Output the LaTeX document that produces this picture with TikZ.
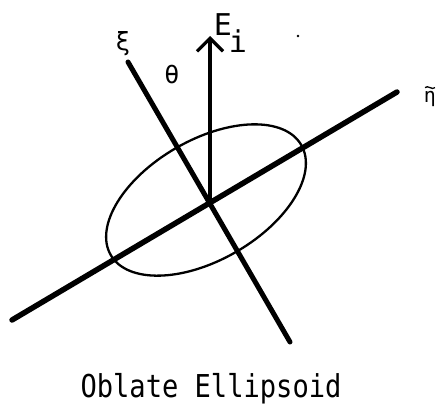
\documentclass[tikz,border=0pt]{standalone}
\usepackage{fontspec}
\setmonofont{DejaVu Sans Mono}
\usetikzlibrary{arrows.meta}
\begin{document}
\begin{tikzpicture}[x=1pt,y=-1pt,
  axisline/.style={line width=5.5pt, line cap=round},
  lbl/.style={font=\ttfamily\fontsize{30}{30}\selectfont, inner sep=0pt},
  greek/.style={font=\ttfamily\fontsize{25}{25}\selectfont, inner sep=0pt},
  captxt/.style={font=\ttfamily\fontsize{31.5}{31.5}\selectfont, inner sep=0pt, anchor=base},
  ]
\useasboundingbox (0,0) rectangle (441,407);
\coordinate (O) at (210,200);
\coordinate (C) at (206,200);
\coordinate (Etip) at (210,36);
\coordinate (etaA) at (12,320);
\coordinate (etaB) at (397,92);
\coordinate (xiA) at (128,62);
\coordinate (xiB) at (290,342);
\draw[line width=2.3pt, rotate around={30:(C)}] (C) ellipse [x radius=110, y radius=60];
\draw[axisline] (etaA) -- (etaB);
\draw[axisline, line width=5pt] (xiA) -- (xiB);
\draw[line width=3.2pt, -{Straight Barb[length=13pt,width=26pt]}] (O) -- (Etip);
\node[lbl, anchor=base] (E) at (223,35) {E};
\node[lbl, anchor=base] (i) at (238,52) {i};
\node[greek] (theta) at (172,75) {θ};
\node[greek] (xi) at (123,44) {ξ};
\node[inner sep=0pt, font=\ttfamily\fontsize{20}{20}\selectfont, anchor=base] (eta) at (430,102) {η};
\draw[line width=1.3pt] ([xshift=-5pt]eta.north) ++(0,-3) .. controls ++(3,-3) and ++(-3,3) .. ++(10,0);
\node[captxt] (cap) at (211,397) {\scalebox{0.86}[1]{Oblate Ellipsoid}};
\fill (298,36) circle (1.3);
\end{tikzpicture}
\end{document}
